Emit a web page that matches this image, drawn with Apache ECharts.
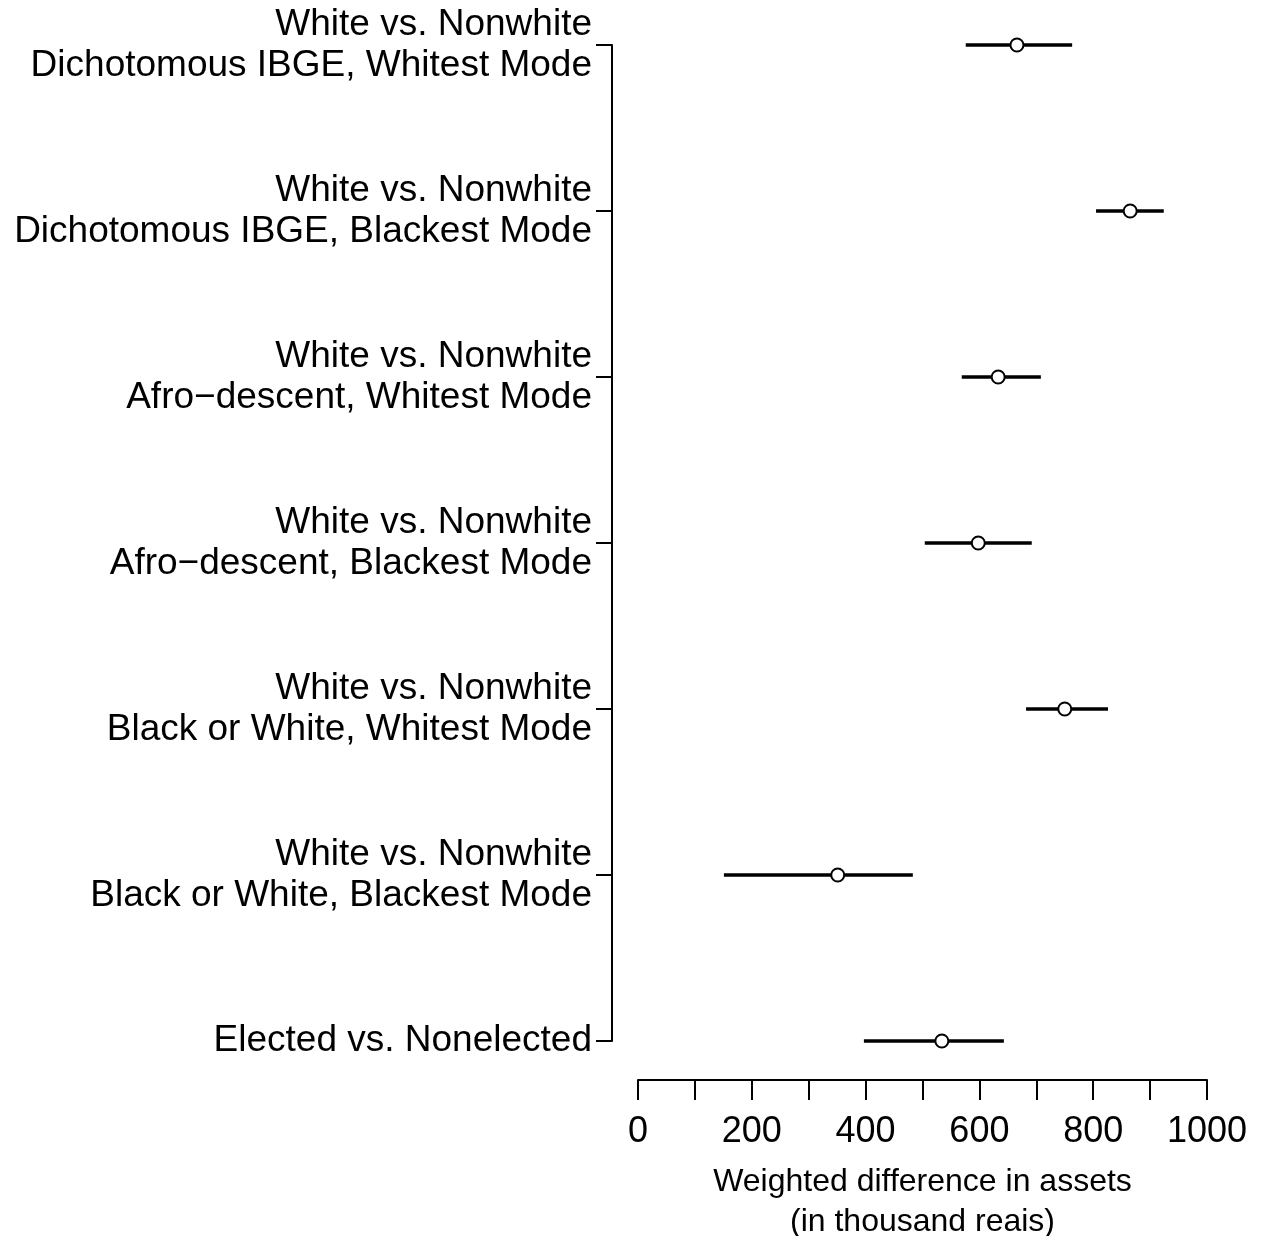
<!DOCTYPE html>
<html>
<head>
<meta charset="utf-8">
<script src="https://cdn.jsdelivr.net/npm/echarts@6/dist/echarts.min.js"></script>
<style>
  html, body { margin: 0; padding: 0; background: #fff; }
  #chart { width: 1262px; height: 1236px; }
</style>
</head>
<body>
<div id="chart"></div>
<script>
// Comparison labels, top to bottom
const categories = [
  'White vs. Nonwhite\nDichotomous IBGE, Whitest Mode',
  'White vs. Nonwhite\nDichotomous IBGE, Blackest Mode',
  'White vs. Nonwhite\nAfro\u2212descent, Whitest Mode',
  'White vs. Nonwhite\nAfro\u2212descent, Blackest Mode',
  'White vs. Nonwhite\nBlack or White, Whitest Mode',
  'White vs. Nonwhite\nBlack or White, Blackest Mode',
  'Elected vs. Nonelected'
];
// Weighted difference in assets (thousand reais)
const estimates = [666, 865, 633, 598, 750, 351, 534];
const lower = [576, 805, 569, 504, 682, 151, 397];
const upper = [763, 924, 708, 692, 826, 483, 643];
const xTicks = [0, 200, 400, 600, 800, 1000];

const fontFamily = '"Liberation Sans", Arial, Helvetica, sans-serif';

const chart = echarts.init(document.getElementById('chart'), null, { renderer: 'canvas' });

chart.setOption({
  backgroundColor: '#ffffff',
  animation: false,
  grid: { left: 638, right: 55, top: 45, bottom: 195, containLabel: false, outerBoundsMode: 'none' },
  xAxis: {
    type: 'value',
    min: 0,
    max: 1000,
    interval: 100,
    offset: 39,
    axisLine: { show: true, onZero: false, lineStyle: { color: '#000', width: 2 } },
    axisTick: { show: true, length: 20, lineStyle: { color: '#000', width: 2 } },
    splitLine: { show: false },
    axisLabel: {
      margin: 34,
      color: '#000',
      fontSize: 36,
      fontFamily: fontFamily,
      hideOverlap: false,
      formatter: v => (xTicks.indexOf(v) >= 0 ? String(v) : '')
    },
    name: 'Weighted difference in assets\n(in thousand reais)',
    nameLocation: 'middle',
    nameGap: 82,
    nameTextStyle: { color: '#000', fontSize: 32, fontFamily: fontFamily, lineHeight: 40 }
  },
  yAxis: {
    type: 'category',
    data: categories,
    inverse: true,
    boundaryGap: false,
    offset: 26,
    axisLine: { show: true, onZero: false, lineStyle: { color: '#000', width: 2 } },
    axisTick: { show: true, length: 16, alignWithLabel: true, lineStyle: { color: '#000', width: 2 } },
    splitLine: { show: false },
    axisLabel: {
      margin: 20,
      color: '#000',
      fontSize: 37,
      lineHeight: 41,
      align: 'right',
      fontFamily: fontFamily,
      hideOverlap: false
    }
  },
  series: [
    {
      type: 'custom',
      data: categories.map((c, i) => [lower[i], upper[i], i]),
      encode: { x: [0, 1], y: 2 },
      renderItem: function (params, api) {
        const a = api.coord([api.value(0), api.value(2)]);
        const b = api.coord([api.value(1), api.value(2)]);
        return {
          type: 'line',
          shape: { x1: a[0], y1: a[1], x2: b[0], y2: b[1] },
          style: { stroke: '#000', lineWidth: 3.5 }
        };
      },
      z: 2
    },
    {
      type: 'scatter',
      data: categories.map((c, i) => [estimates[i], i]),
      symbol: 'circle',
      symbolSize: 13,
      itemStyle: { color: '#fff', opacity: 1, borderColor: '#000', borderWidth: 2 },
      emphasis: { disabled: true },
      z: 3
    }
  ]
});
</script>
</body>
</html>
